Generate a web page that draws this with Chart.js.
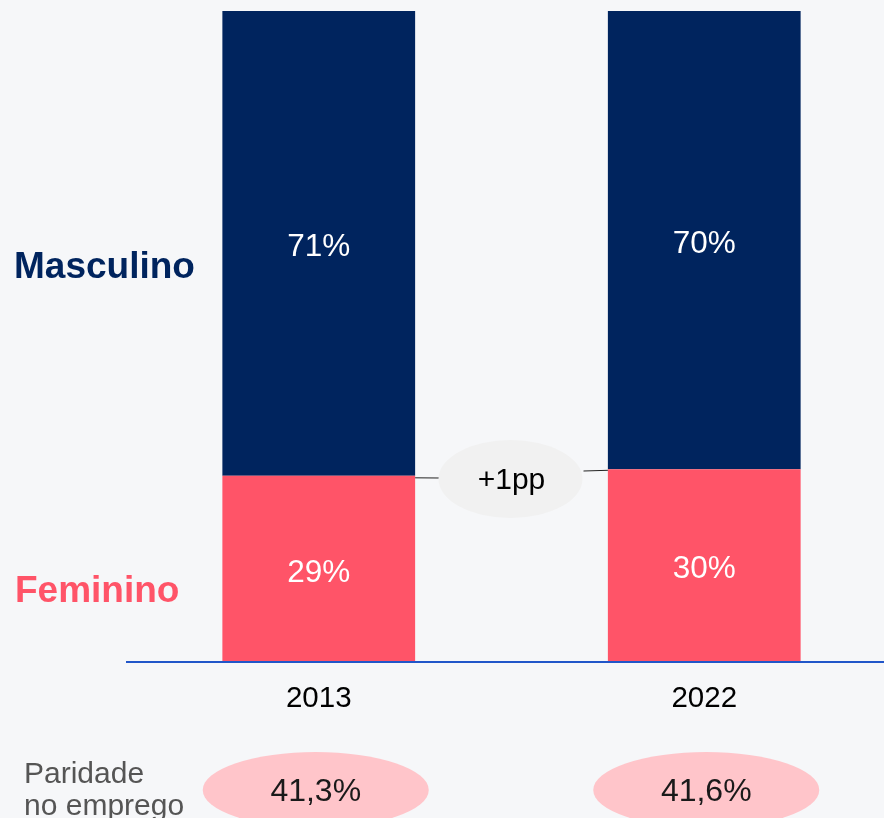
<!DOCTYPE html>
<html>
<head>
<meta charset="utf-8">
<script src="https://cdn.jsdelivr.net/npm/chart.js@4"></script>
<style>
html,body{margin:0;padding:0;background:#f6f7f9;overflow:hidden;}
#wrap{position:relative;width:897px;height:818px;}
</style>
</head>
<body>
<div id="wrap"><canvas id="c" width="897" height="818"></canvas></div>
<script>
const categories = ['2013', '2022'];
const feminino = [28.6, 29.6];
const masculino = [71.4, 70.4];
const paridade = ['41,3%', '41,6%'];
const variacao = '+1pp';
const seriesNames = ['Feminino', 'Masculino'];

const NAVY = '#00245e';
const PINK = '#ff5468';
const FONT = '"Liberation Sans", Arial, sans-serif';

const overlay = {
  id: 'overlay',
  afterDatasetsDraw(chart) {
    const ctx = chart.ctx;
    const xs = chart.scales.x;
    const ca = chart.chartArea;
    ctx.save();
    // value labels
    ctx.textAlign = 'center';
    ctx.textBaseline = 'middle';
    ctx.fillStyle = '#ffffff';
    ctx.font = '31.5px ' + FONT;
    chart.data.datasets.forEach((ds, di) => {
      chart.getDatasetMeta(di).data.forEach((bar, i) => {
        const y = (bar.y + bar.base) / 2 + 4;
        ctx.fillText(Math.round(ds.data[i]) + '%', bar.x, y);
      });
    });
    // axis line
    ctx.strokeStyle = '#2156c9';
    ctx.lineWidth = 2;
    ctx.beginPath();
    ctx.moveTo(ca.left, ca.bottom);
    ctx.lineTo(884, ca.bottom);
    ctx.stroke();
    // category labels
    ctx.fillStyle = '#000000';
    ctx.font = '29.5px ' + FONT;
    categories.forEach((c, i) => {
      ctx.fillText(c, xs.getPixelForValue(i), ca.bottom + 37);
    });
    // series labels on left
    ctx.textAlign = 'left';
    ctx.font = 'bold 37px ' + FONT;
    ctx.fillStyle = NAVY;
    ctx.fillText(seriesNames[1], 14, 268);
    ctx.fillStyle = PINK;
    ctx.fillText(seriesNames[0], 15, 592);
    // change bubble
    const b0 = chart.getDatasetMeta(0).data[0];
    const b1 = chart.getDatasetMeta(0).data[1];
    const cx = (xs.getPixelForValue(0) + xs.getPixelForValue(1)) / 2;
    const cy = 479;
    ctx.strokeStyle = '#222222';
    ctx.lineWidth = 1;
    ctx.beginPath();
    ctx.moveTo(b0.x + b0.width / 2, b0.y + 2);
    ctx.lineTo(cx - 72, cy - 1);
    ctx.moveTo(cx + 72, cy - 8);
    ctx.lineTo(b1.x - b1.width / 2, b1.y + 1);
    ctx.stroke();
    ctx.fillStyle = '#f1f1f1';
    ctx.beginPath();
    ctx.ellipse(cx - 1, cy, 72, 39, 0, 0, Math.PI * 2);
    ctx.fill();
    ctx.fillStyle = '#000000';
    ctx.textAlign = 'center';
    ctx.font = '30px ' + FONT;
    ctx.fillText(variacao, cx, cy + 2);
    // paridade
    ctx.fillStyle = '#555555';
    ctx.textAlign = 'left';
    ctx.font = '30px ' + FONT;
    ctx.fillText('Paridade', 24, 775);
    ctx.fillText('no emprego', 24, 807);
    const shift = [-3, 2];
    paridade.forEach((p, i) => {
      const px = xs.getPixelForValue(i) + shift[i];
      ctx.fillStyle = '#ffc5ca';
      ctx.beginPath();
      ctx.ellipse(px, 790, 113, 38, 0, 0, Math.PI * 2);
      ctx.fill();
      ctx.fillStyle = '#1a1a1a';
      ctx.textAlign = 'center';
      ctx.font = '32px ' + FONT;
      ctx.fillText(p, px, 792);
    });
    ctx.restore();
  }
};

new Chart(document.getElementById('c'), {
  type: 'bar',
  data: {
    labels: categories,
    datasets: [
      { label: seriesNames[0], data: feminino, backgroundColor: PINK, borderWidth: 0 },
      { label: seriesNames[1], data: masculino, backgroundColor: NAVY, borderWidth: 0 }
    ]
  },
  options: {
    responsive: false,
    animation: false,
    events: [],
    layout: { padding: { left: 126, right: 0, top: 11, bottom: 156 } },
    categoryPercentage: 0.5,
    barPercentage: 1.0,
    scales: {
      x: { stacked: true, display: false },
      y: { stacked: true, display: false, min: 0, max: 100 }
    },
    plugins: { legend: { display: false }, tooltip: { enabled: false } }
  },
  plugins: [overlay]
});
</script>
</body>
</html>
